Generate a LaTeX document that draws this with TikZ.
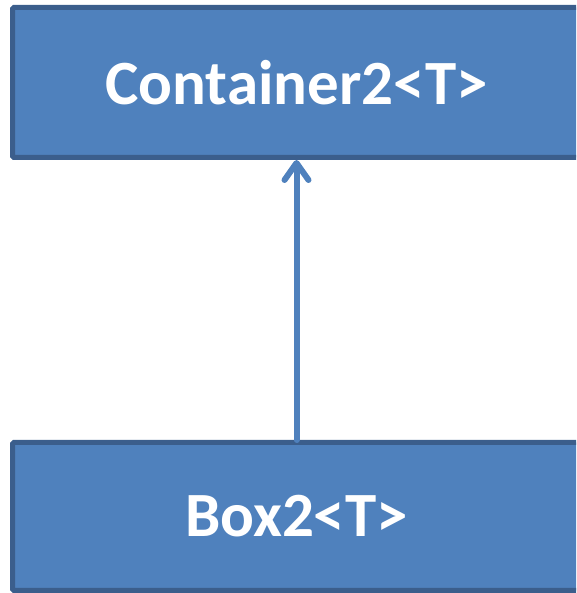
\documentclass[tikz,border=0pt]{standalone}
\usepackage{fontspec}
\setmainfont{Carlito}
\usetikzlibrary{arrows.meta}
\definecolor{boxfill}{HTML}{4F81BD}
\definecolor{boxline}{HTML}{3B5E8C}
\begin{document}
\begin{tikzpicture}[x=1pt,y=1pt,
  classbox/.style={draw=boxline, fill=boxfill, line width=5pt, rounded corners=1.5pt,
    text=white, font=\bfseries\fontsize{63}{70}\selectfont, minimum width=568pt, inner sep=0pt},
  inherit/.style={draw=boxfill, line width=6pt, line cap=round,
    -{Straight Barb[length=17pt,width=24pt,line cap=round,line join=round]}}]
\useasboundingbox (0,0) rectangle (576,593);
\clip (0,0) rectangle (576,593);
\node[classbox, minimum height=150pt] (container) at (296.5,510.5) {Container2<T>};
\node[classbox, minimum height=148pt] (box) at (296.5,76.5) {Box2<T>};
\draw[inherit] (box.north) -- (container.south);
\end{tikzpicture}
\end{document}
